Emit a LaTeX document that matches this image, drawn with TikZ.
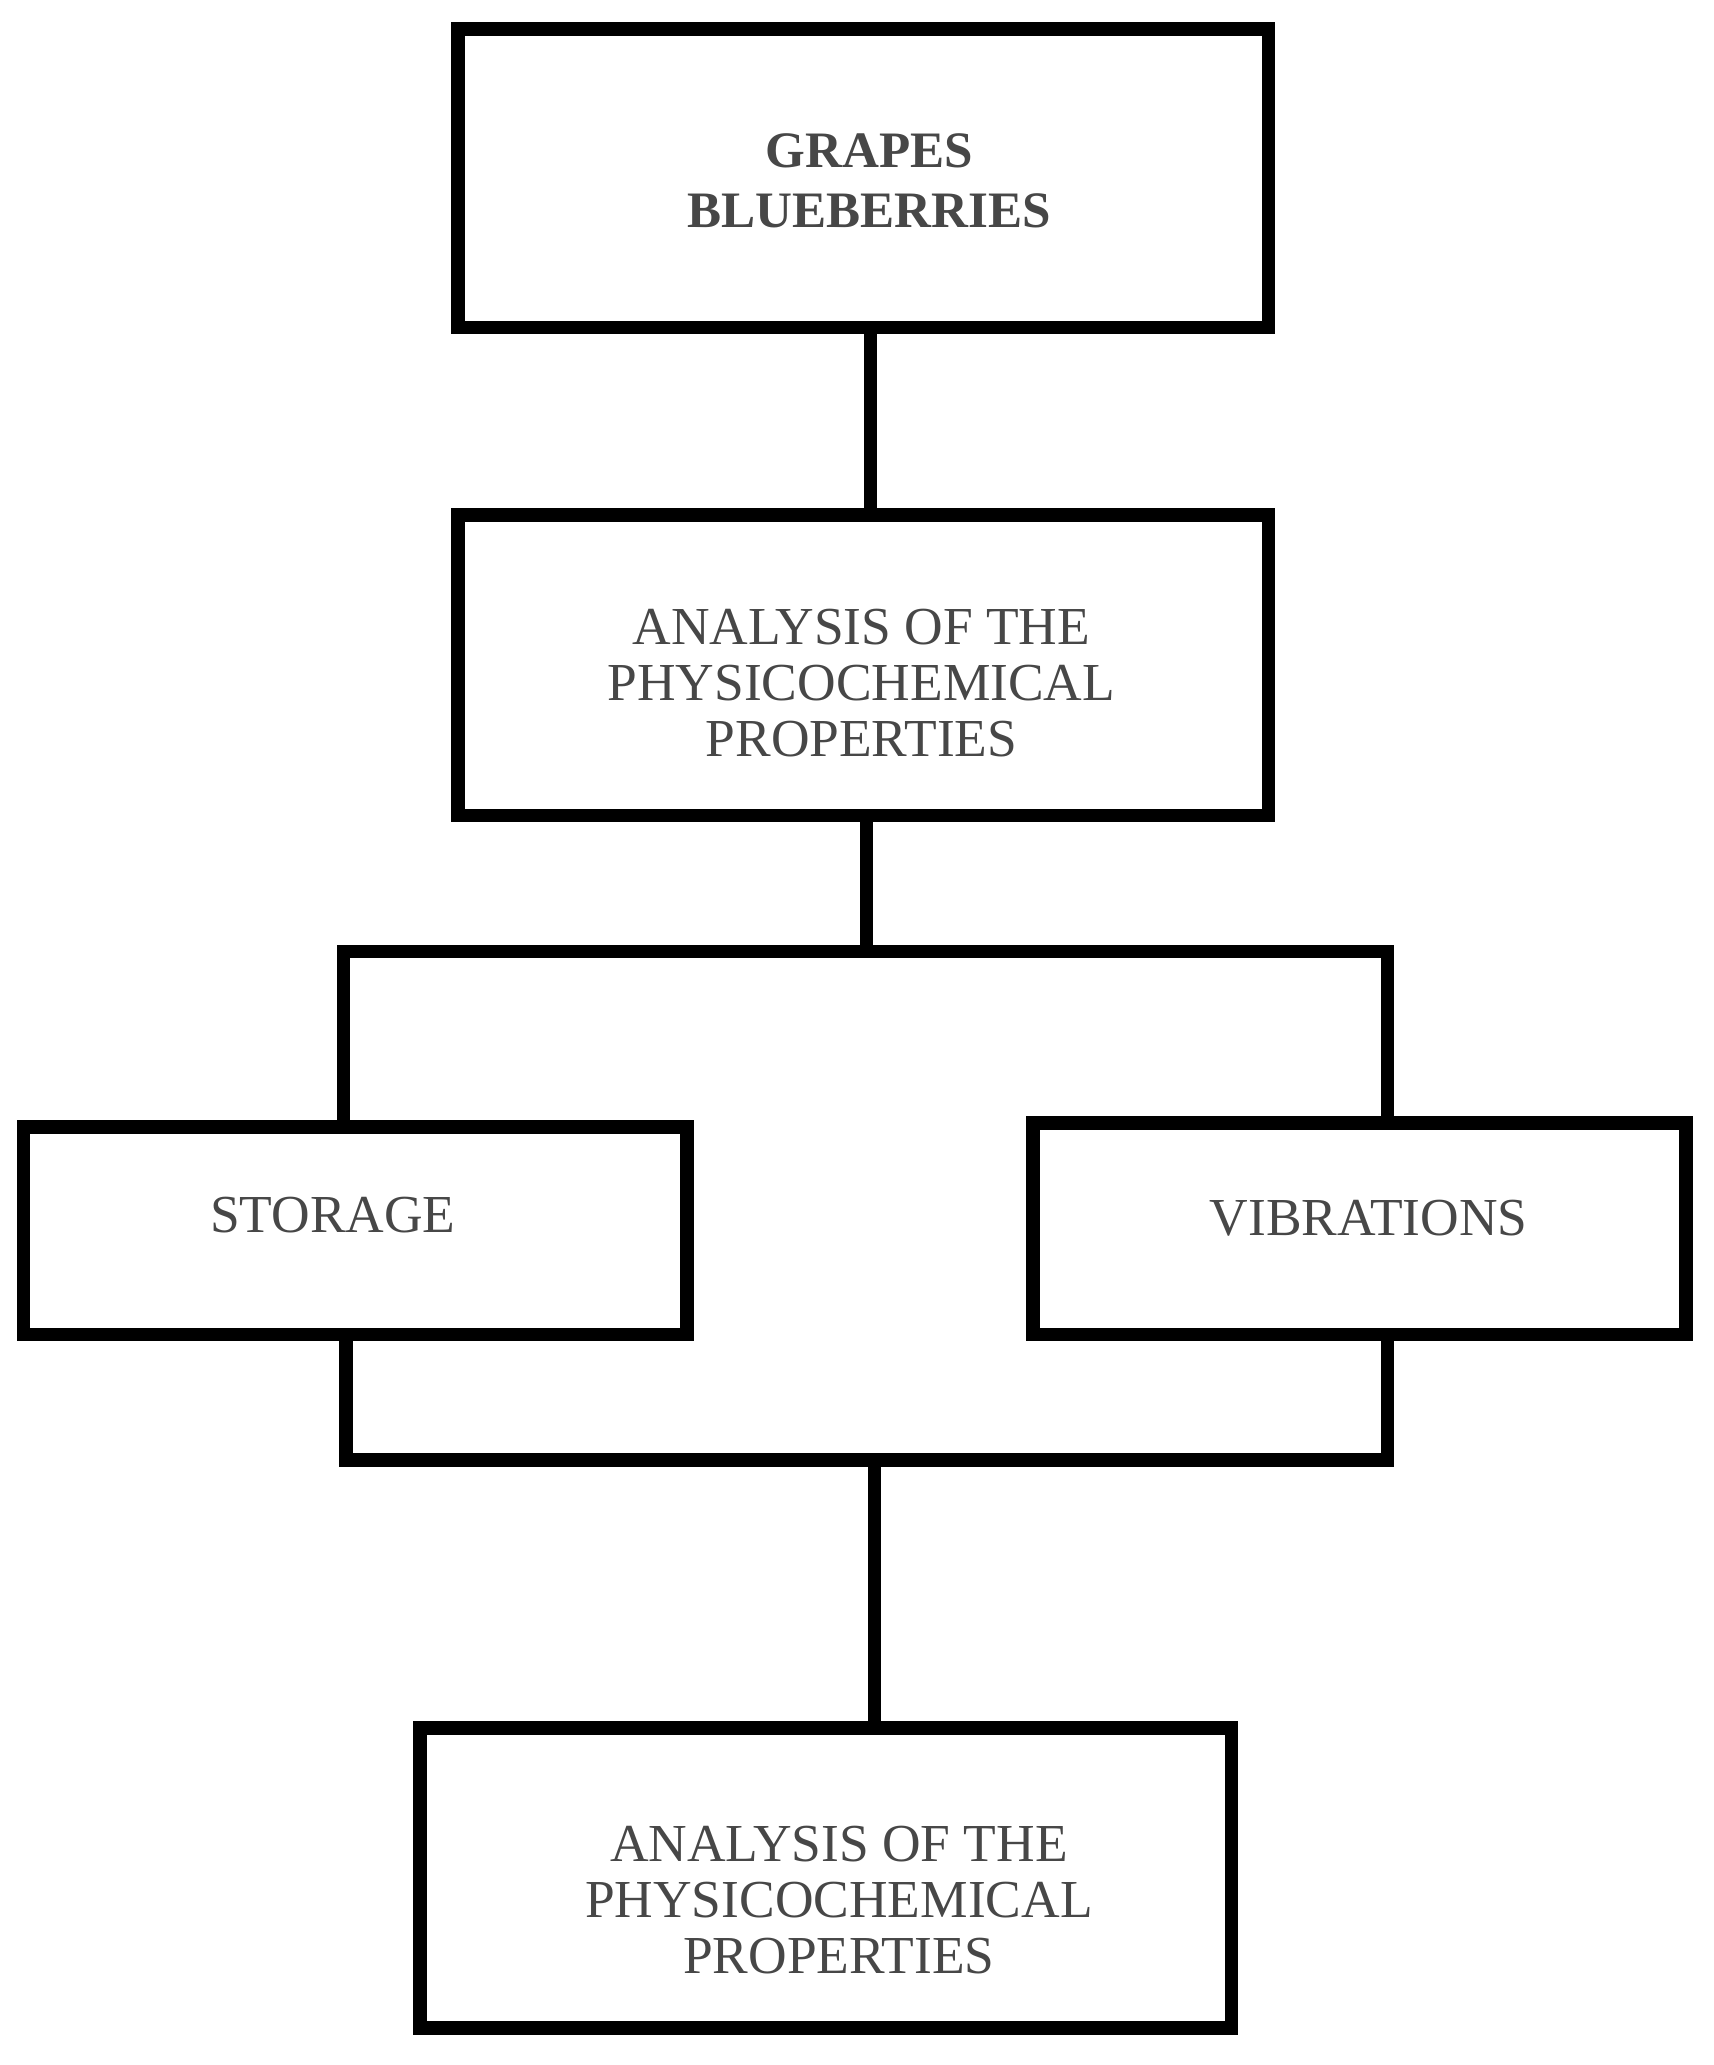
\documentclass[tikz,border=0pt]{standalone}
\usepackage{fontspec}
\setmainfont{Liberation Serif}
\begin{document}
\begin{tikzpicture}[x=0.01cm,y=-0.01cm,
  box/.style={draw=black,line width=2.9pt,minimum width=#1,inner sep=0pt},
  lbl/.style={text=black!72,font=\fontsize{11.5}{14}\selectfont,align=center},
  ln/.style={line width=2.9pt,line cap=rect}]
\useasboundingbox (0,0) rectangle (1297,1563);
\node[draw,line width=2.9pt,minimum width=6.13cm,minimum height=2.26cm] (top) at (653.5,135) {};
\node[lbl,font=\bfseries\fontsize{11}{14}\selectfont] (toplbl) at (658,137) {GRAPES\\[-1pt]BLUEBERRIES};
\node[draw,line width=2.9pt,minimum width=6.13cm,minimum height=2.27cm] (a1) at (653.5,503.5) {};
\node[lbl] (a1lbl) at (652,517) {ANALYSIS OF THE\\[-2pt]PHYSICOCHEMICAL\\[-2pt]PROPERTIES};
\node[draw,line width=2.9pt,minimum width=5.02cm,minimum height=1.57cm] (st) at (269,931.5) {};
\node[lbl] (stlbl) at (252,920) {STORAGE};
\node[draw,line width=2.9pt,minimum width=4.94cm,minimum height=1.6cm] (vb) at (1029,930) {};
\node[lbl] (vblbl) at (1036,922) {VIBRATIONS};
\node[draw,line width=2.9pt,minimum width=6.14cm,minimum height=2.27cm] (a2) at (625,1421.5) {};
\node[lbl] (a2lbl) at (635,1438) {ANALYSIS OF THE\\[-2pt]PHYSICOCHEMICAL\\[-2pt]PROPERTIES};
\coordinate (s1) at (656,720);
\coordinate (sl) at (260,720);
\coordinate (sr) at (1050,720);
\coordinate (m1) at (662,1105);
\coordinate (ml) at (262,1105);
\coordinate (mr) at (1050,1105);
\draw[ln] (top.south -| 659,0) -- (a1.north -| 659,0);
\draw[ln] (a1.south -| s1) -- (s1);
\draw[ln] (st.north -| sl) -- (sl) -- (sr) -- (vb.north -| sr);
\draw[ln] (st.south -| ml) -- (ml) -- (mr) -- (vb.south -| mr);
\draw[ln] (m1) -- (a2.north -| m1);
\end{tikzpicture}
\end{document}
